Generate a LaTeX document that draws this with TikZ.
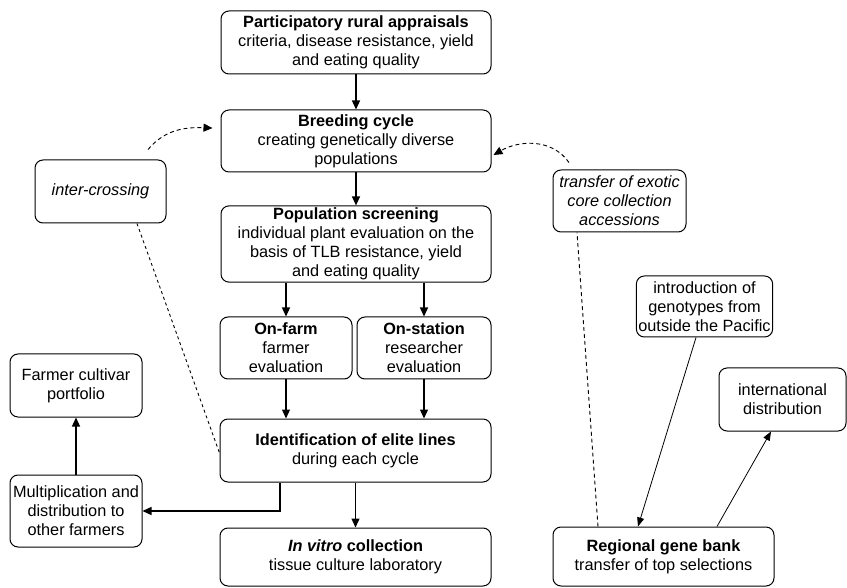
\documentclass[tikz,border=0pt]{standalone}
\usepackage{fontspec}
\setmainfont{Liberation Sans}
\usetikzlibrary{arrows.meta}

\begin{document}
\begin{tikzpicture}[
  x = 1pt, y = -1pt,
  every node/.style = {draw, rounded corners = 8pt, align = center, inner sep = 2pt, line width = 1pt},
  box/.style 2 args = {minimum width = #1, minimum height = #2},
  arr/.style = {-{Triangle[length = 9pt, width = 8pt]}, line width = 1.3pt},
  thinarr/.style = {-{Triangle[length = 9pt, width = 7pt]}, line width = 0.8pt},
  dashline/.style = {dash pattern = on 4pt off 3pt, line width = 0.9pt}
  ]
  \fontsize{16.3}{19}\selectfont
  \useasboundingbox (0,0) rectangle (847,588);
  % main column
  \node[box = {270pt}{63pt}] (pra) at (356,42.5)
    {\textbf{Participatory rural appraisals}\\criteria, disease resistance, yield\\and eating quality};
  \node[box = {270pt}{62pt}] (breed) at (356,141)
    {\textbf{Breeding cycle}\\creating genetically diverse\\populations};
  \node[box = {270pt}{75pt}] (screen) at (356,244)
    {\textbf{Population screening}\\individual plant evaluation on the\\basis of TLB resistance, yield\\and eating quality};
  \node[box = {132pt}{62pt}] (farm) at (286,348)
    {\textbf{On-farm}\\farmer\\evaluation};
  \node[box = {134pt}{62pt}] (station) at (424,348)
    {\textbf{On-station}\\researcher\\evaluation};
  \node[box = {271pt}{63pt}] (elite) at (355.5,450.5)
    {\textbf{Identification of elite lines}\\during each cycle};
  \node[box = {271pt}{58pt}] (vitro) at (355.5,557)
    {\textbf{\textit{In vitro} collection}\\tissue culture laboratory};
  % left side
  \node[box = {131pt}{63pt}] (cross) at (100.5,191.5) {\textit{inter-crossing}};
  \node[box = {132pt}{63pt}] (portfolio) at (76,385.5) {Farmer cultivar\\portfolio};
  \node[box = {132pt}{72pt}] (multi) at (76,511)
    {Multiplication and\\distribution to\\other farmers};
  % right side
  \node[box = {133pt}{62pt}] (exotic) at (619.5,201)
    {\textit{transfer of exotic}\\\textit{core collection}\\\textit{accessions}};
  \node[box = {133pt}{61pt}] (intro) at (704.5,306.5)
    {introduction of\\genotypes from\\outside the Pacific};
  \node[box = {127pt}{63pt}] (intl) at (782.5,399.5) {international\\distribution};
  \node[box = {221pt}{59pt}] (bank) at (663.5,556.5)
    {\textbf{Regional gene bank}\\transfer of top selections};

  % connectors
  \draw[arr] (pra) -- (breed);
  \draw[arr] (breed) -- (screen);
  \draw[arr] (farm |- screen.south) -- (farm);
  \draw[arr] (station |- screen.south) -- (station);
  \draw[arr] (farm) -- (farm |- elite.north);
  \draw[arr] (station) -- (station |- elite.north);
  \draw[arr] (elite) -- (vitro);
  \draw[arr] ([xshift = -75.5pt]elite.south) |- (multi.east);
  \draw[arr] (multi) -- (portfolio);
  \draw[dashline, -{Triangle[length = 9pt, width = 8pt]}]
    ([shift = {(47.5pt,10pt)}]cross.north) to[out = 50, in = 178] ([shift = {(-8pt,13pt)}]breed.west);
  \draw[dashline, dash pattern = on 3pt off 3pt]
    ([xshift = 36.5pt]cross.south) -- ([yshift = -2.5pt]elite.west);
  \draw[dashline, -{Triangle[length = 9pt, width = 8pt]}]
    ([shift = {(-50.5pt,7pt)}]exotic.north) to[out = 125, in = 30] ([shift = {(2pt,-14pt)}]breed.east);
  \draw[dashline] ([xshift = -65.5pt]bank.north) -- ([xshift = -42.5pt]exotic.south);
  \draw[thinarr] ([xshift = -8.5pt]intro.south) -- ([xshift = -25.5pt]bank.north);
  \draw[thinarr] ([xshift = 53.5pt]bank.north) -- ([xshift = -11.5pt]intl.south);
\end{tikzpicture}
\end{document}
